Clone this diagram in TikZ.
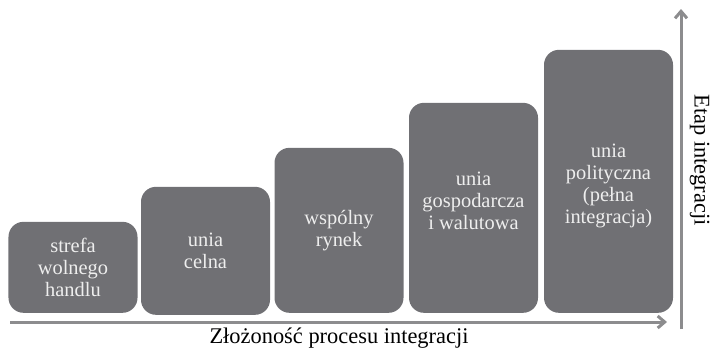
\documentclass[tikz,border=0pt]{standalone}
\usepackage{fontspec}
\setmainfont{Liberation Serif}
\usepackage{xcolor}
\usetikzlibrary{arrows.meta}
\definecolor{boxGray}{HTML}{707074}
\definecolor{axisGray}{HTML}{8C8C8E}
\definecolor{textLight}{HTML}{EEEEEE}
\tikzset{
  stage_box/.style={rectangle, rounded corners=15bp, fill=boxGray,
    minimum width=129bp, anchor=south, inner sep=0pt},
  stage_text/.style={text=textLight, align=center, inner sep=0pt,
    font=\fontsize{20.5}{22}\selectfont},
  axis_edge/.style={line width=3bp, draw=axisGray, -{Straight Barb[length=7bp, width=12bp]}},
  axis_label/.style={font=\fontsize{22.5}{24}\selectfont, text=black, inner sep=0pt}
}
\begin{document}
\begin{tikzpicture}[x=1bp, y=-1bp]
        \useasboundingbox (0, 0) rectangle (712, 351);
        \node[stage_box, minimum height=91bp] (1) at (73, 313) {};
        \node[stage_box, minimum height=128bp] (2) at (205.5, 315) {};
        \node[stage_box, minimum height=165bp] (3) at (339, 313) {};
        \node[stage_box, minimum height=210bp] (4) at (473.5, 313) {};
        \node[stage_box, minimum height=263bp] (5) at (608.5, 313) {};
        \node[stage_text] (11) at (1.center) {strefa\\wolnego\\handlu};
        \node[stage_text] (12) at (2.center) {unia\\celna};
        \node[stage_text] (13) at (3.center) {wsp\'olny\\rynek};
        \node[stage_text, yshift=7bp] (14) at (4.center) {unia\\gospodarcza\\i walutowa};
        \node[stage_text, yshift=-4.5bp] (15) at (5.center) {unia\\polityczna\\(pełna\\integracja)};
        \coordinate (x0) at (10, 322);
        \coordinate (x1) at (667, 322);
        \coordinate (y0) at (681, 329);
        \coordinate (y1) at (681, 9);
        \draw[axis_edge] (x0) -- (x1);
        \draw[axis_edge] (y0) -- (y1);
		\node[axis_label] (20) at (339, 338) {Złożoność procesu integracji};
		\node[axis_label, rotate=-90] (21) at (699.5, 160) {Etap integracji};
    \end{tikzpicture}
\end{document}
